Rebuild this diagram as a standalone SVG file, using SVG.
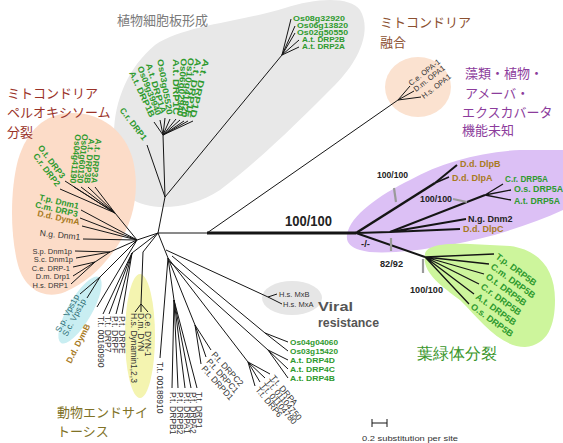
<svg xmlns="http://www.w3.org/2000/svg" width="563" height="443" viewBox="0 0 563 443">
<style>
text{font-family:"Liberation Sans",Arial,sans-serif}
.lab{font-size:8.5px}
.sm{font-size:7px}
.g{fill:#2e9a2e;font-weight:bold}
.b{fill:#a87a1e;font-weight:bold}
.k{fill:#333}
.j{font-family:"Noto Sans CJK JP","Noto Sans CJK SC",sans-serif;font-size:13px}
.bs{font-weight:bold;fill:#222;font-size:9.5px}
.e{stroke:#151515;stroke-width:1;fill:none}
.tk{stroke:#9a9a9a;stroke-width:2.2}
</style>
<rect width="563" height="443" fill="#fff"/>
<g id="regions">
<path d="M115,150 C110,110 125,70 155,45 C185,25 240,22 285,8 C315,-2 350,-4 360,10 C372,30 360,60 335,85 C300,120 260,160 220,190 C190,210 150,212 130,198 C118,188 116,170 115,150 Z" fill="#e8e8e8"/>
<path d="M70,113 C100,112 125,130 133,160 C140,190 134,220 118,245 C104,266 88,282 65,292 C45,300 25,290 18,265 C10,235 10,190 18,160 C27,130 45,114 70,113 Z" fill="#fcdcc8"/>
<ellipse cx="80" cy="310" rx="12" ry="38" transform="rotate(30 80 310)" fill="#c9eef2"/>
<ellipse cx="140" cy="336" rx="15" ry="62" fill="#f4f4b0"/>
<ellipse cx="418" cy="87" rx="33" ry="30" fill="#fbe2d0"/>
<ellipse cx="292" cy="298" rx="30" ry="17" fill="#e6e6e6"/>
<path d="M347,235 C350,215 380,195 410,180 C440,163 480,152 520,150 L563,150 L563,210 C530,225 490,238 450,245 C410,252 375,255 360,250 C350,247 346,242 347,235 Z" fill="#dcc0f5"/>
<path d="M425,255 C425,245 445,243 470,244 L510,246 C540,250 555,270 555,300 C555,325 548,345 525,347 C500,347 480,320 460,300 C440,285 422,272 425,255 Z" fill="#cdf59c"/>
</g>
<g id="connectors" class="e">
<path d="M158,233 L207,233 M207,233 L398,100 M158,233 L165,197 M158,233 L137,240 M158,233 L168,258"/>
<path d="M207,233 L356,233" stroke-width="2.8"/>
<path d="M165,197 L163,135 M163,135 L193,121 M163,135 L188,121 M163,135 L184,121 M163,135 L180,120 M163,135 L176,119 M163,135 L170,119 M163,135 L165,118 M163,135 L160,120 M163,135 L154,122 M165,197 L147,145"/>
<path d="M165,197 L282,55 M282,55 L291,19 M282,55 L295,26 M282,55 L295,33 M282,55 L299,40 M282,55 L299,47"/>
<path d="M398,100 L410,86 M398,100 L414,91 M398,100 L421,97"/>
<path d="M137,240 L115,213 M115,213 L95,187 M115,213 L88,187 M115,213 L81,187 M115,213 L74,187 M115,213 L65,181 M115,213 L60,189"/>
<path d="M137,240 L81,210 M137,240 L80,218 M137,240 L82,226 M137,240 L83,239"/>
<path d="M137,240 L110,252 M110,252 L75,251 M110,252 L76,258 M110,252 L95,262 M95,262 L73,267 M95,262 L73,276 M95,262 L71,284"/>
<path d="M137,240 L100,277 M100,277 L80,294 M100,277 L87,298 M137,240 L97,307"/>
<path d="M158,233 L132,253 M132,253 L122,314 M132,253 L116,314 M132,253 L109,314 M132,253 L103,314"/>
<path d="M158,233 L143,252 L141,304 M141,304 L135,312 M141,304 L141,312 M141,304 L148,312"/>
<path d="M168,258 L160,358 M168,258 L174,300 M174,300 L172,388 M174,300 L178,388 M174,300 L185,388 M174,300 L191,388 M174,300 L197,388"/>
<path d="M168,258 L195,325 M195,325 L211,350 M195,325 L206,357 M195,325 L201,364"/>
<path d="M168,258 L248,362 M248,362 L270,374 M248,362 L265,378 M248,362 L260,382 M248,362 L255,386"/>
<path d="M172,256 L265,333 M265,333 L288,342 M265,333 L288,351 M170,262 L268,350 M268,350 L288,360 M268,350 L288,369 M268,350 L288,378"/>
<path d="M166,250 L268,297 M268,297 L277,294 M268,297 L282,304"/>
<path d="M356,233 L435,183" stroke-width="2.5"/>
<path d="M435,183 L457,165" stroke-width="2"/>
<path d="M435,183 L449,177" stroke-width="1.5"/>
<path d="M356,233 L390,232 L485,195" stroke-width="2"/>
<path d="M485,195 L503,184 M485,195 L511,190 M485,195 L511,200" stroke-width="1.3"/>
<path d="M390,232 L466,219 M390,232 L460,229" stroke-width="1.8"/>
<path d="M356,233 L425,257" stroke-width="2"/>
<path d="M425,257 L494,254 M425,257 L489,264 M425,257 L484,274 M425,257 L479,284 M425,257 L474,294 M425,257 L469,304" stroke-width="1.3"/>
</g>
<g id="bootstrap">
<text x="285" y="226" font-size="15" font-weight="bold" fill="#222" textLength="47" lengthAdjust="spacingAndGlyphs">100/100</text>
<text class="bs" x="377" y="178" textLength="31" lengthAdjust="spacingAndGlyphs">100/100</text>
<text class="bs" x="420" y="202" textLength="32" lengthAdjust="spacingAndGlyphs">100/100</text>
<text class="bs" x="361" y="247">-/-</text>
<text class="bs" x="380" y="267" textLength="23" lengthAdjust="spacingAndGlyphs">82/92</text>
<text class="bs" x="410" y="293" textLength="33" lengthAdjust="spacingAndGlyphs">100/100</text>
<line class="tk" x1="394" y1="188" x2="396" y2="202"/>
<line class="tk" x1="453" y1="199" x2="467" y2="202"/>
<line class="tk" x1="391" y1="238" x2="391" y2="251"/>
<line class="tk" x1="423" y1="259" x2="423" y2="273"/>
</g>
<g id="plant-cell-plate">
<text class="j" x="117" y="25" fill="#7a7a7a">植物細胞板形成</text>
<text class="sm g" x="293" y="21" textLength="52" lengthAdjust="spacingAndGlyphs">Os08g32920</text>
<text class="sm g" x="297" y="28" textLength="51" lengthAdjust="spacingAndGlyphs">Os06g13820</text>
<text class="sm g" x="297" y="35" textLength="51" lengthAdjust="spacingAndGlyphs">Os02g50550</text>
<text class="sm g" x="302" y="42" textLength="43" lengthAdjust="spacingAndGlyphs">A.t. DRP2B</text>
<text class="sm g" x="302" y="49" textLength="43" lengthAdjust="spacingAndGlyphs">A.t. DRP2A</text>
<text class="lab g" font-size="8" text-anchor="end" transform="translate(190,117) rotate(103)" textLength="60" lengthAdjust="spacingAndGlyphs">A.t. DRP1D</text>
<text class="lab g" font-size="8" text-anchor="end" transform="translate(185,117) rotate(100)" textLength="60" lengthAdjust="spacingAndGlyphs">A.t. DRP1E</text>
<text class="lab g" font-size="8" text-anchor="end" transform="translate(181,117) rotate(97)" textLength="60" lengthAdjust="spacingAndGlyphs">Os10g41820</text>
<text class="lab g" font-size="8" text-anchor="end" transform="translate(177,116) rotate(94)" textLength="58" lengthAdjust="spacingAndGlyphs">Os06g02940</text>
<text class="lab g" font-size="8" text-anchor="end" transform="translate(173,115) rotate(90)" textLength="56" lengthAdjust="spacingAndGlyphs">A.t. DRP1C</text>
<text class="lab g" font-size="8" text-anchor="end" transform="translate(167,115) rotate(80)" textLength="56" lengthAdjust="spacingAndGlyphs">Os03g05520</text>
<text class="lab g" font-size="8" text-anchor="end" transform="translate(161,114) rotate(73)" textLength="52" lengthAdjust="spacingAndGlyphs">A.t. DRP1A</text>
<text class="lab g" font-size="8" text-anchor="end" transform="translate(156,116) rotate(69)" textLength="52" lengthAdjust="spacingAndGlyphs">Os09g39940</text>
<text class="lab g" font-size="8" text-anchor="end" transform="translate(150,118) rotate(65)" textLength="50" lengthAdjust="spacingAndGlyphs">A.t. DRP1B</text>
<text class="lab g" text-anchor="end" transform="translate(143,141) rotate(52)">C.r. DRP1</text>
</g>
<g id="mito-fusion">
<text class="j" x="380" y="27" fill="#8b5030">ミトコンドリア</text>
<text class="j" x="380" y="47" fill="#8b5030">融合</text>
<text class="k" font-size="7.5" transform="translate(411,86) rotate(-38)">C.e. OPA-1</text>
<text class="k" font-size="7.5" transform="translate(416,92) rotate(-38)">D.m. OPA1</text>
<text class="k" font-size="7.5" transform="translate(424,99) rotate(-38)">H.s. OPA1</text>
</g>
<g id="mito-division">
<text class="j" x="7" y="98" fill="#9a3228">ミトコンドリア</text>
<text class="j" x="7" y="117" fill="#9a3228">ペルオキシソーム</text>
<text class="j" x="7" y="137" fill="#9a3228">分裂</text>
<text class="lab g" text-anchor="end" transform="translate(91,183) rotate(96)">A.t. DRP3A</text>
<text class="lab g" text-anchor="end" transform="translate(84,183) rotate(96)">A.t. DRP3B</text>
<text class="lab g" text-anchor="end" transform="translate(77,183) rotate(96)">Os01g60130</text>
<text class="lab g" text-anchor="end" transform="translate(70,183) rotate(96)">Os04g41190</text>
<text class="lab g" text-anchor="end" transform="translate(61,179) rotate(53)">O.t. DRP3</text>
<text class="lab g" text-anchor="end" transform="translate(56,187) rotate(53)">C.r. DRP2</text>
<text class="lab g" text-anchor="end" transform="translate(78,209) rotate(13)">T.p. Dnm1</text>
<text class="lab g" text-anchor="end" transform="translate(77,217) rotate(13)">C.m. DRP3</text>
<text class="lab b" text-anchor="end" transform="translate(79,225) rotate(12)">D.d. DymA</text>
<text class="lab k" text-anchor="end" transform="translate(80,240) rotate(6)">N.g. Dnm1</text>
<text class="k" font-size="7.5" text-anchor="end" x="72" y="254">S.p. Dnm1p</text>
<text class="k" font-size="7.5" text-anchor="end" x="73" y="262">S.c. Dnm1p</text>
<text class="k" font-size="7.5" text-anchor="end" x="70" y="270.5">C.e. DRP-1</text>
<text class="k" font-size="7.5" text-anchor="end" x="70" y="279">D.m. Drp1</text>
<text class="k" font-size="7.5" text-anchor="end" x="68" y="287.5">H.s. DRP1</text>
</g>
<g id="vps1">
<text class="lab" fill="#2a6a70" transform="translate(60,333) rotate(-62)">S.p. Vps1p</text>
<text class="lab" fill="#2a6a70" transform="translate(67,337) rotate(-62)">S.c. Vps1p</text>
</g>
<g id="dymB">
<text class="lab b" transform="translate(71,364) rotate(-63)">D.d. DymB</text>
</g>
<g id="protist-drp">
<text class="lab k" transform="translate(119,316) rotate(90)">P.t. DRPE</text>
<text class="lab k" transform="translate(112,316) rotate(90)">P.t. DRPF</text>
<text class="lab k" transform="translate(105,316) rotate(90)">T.t. DRP7</text>
<text class="lab k" transform="translate(98,316) rotate(90)">T.t. 00160990</text>
<text class="lab k" transform="translate(157,362) rotate(90)">T.t. 00188910</text>
<text class="lab k" transform="translate(196,392) rotate(90)">T.t. DRP1</text>
<text class="lab k" transform="translate(190,392) rotate(90)">P.t. DRPA2</text>
<text class="lab k" transform="translate(184,392) rotate(90)">P.t. DRPA1</text>
<text class="lab k" transform="translate(177,392) rotate(90)">P.t. DRPB2</text>
<text class="lab k" transform="translate(170,392) rotate(90)">P.t. DRPB1</text>
<text class="lab k" transform="translate(211,355) rotate(48)">P.t. DRPC2</text>
<text class="lab k" transform="translate(206,362) rotate(48)">P.t. DRPC1</text>
<text class="lab k" transform="translate(201,369) rotate(48)">P.t. DRPD1</text>
<text class="lab k" transform="translate(270,378) rotate(50)">T.t. DRPA</text>
<text class="lab k" transform="translate(265,382) rotate(50)">T.t. 01104750</text>
<text class="lab k" transform="translate(260,386) rotate(50)">T.t. 01104780</text>
<text class="lab k" transform="translate(255,390) rotate(50)">T.t. DRP6</text>
</g>
<g id="endocytosis">
<text class="lab k" transform="translate(145,313) rotate(90)">C.e. DYN-1</text>
<text class="lab k" transform="translate(138,313) rotate(90)">D.m. DYN</text>
<text class="lab k" transform="translate(131,313) rotate(90)">H.s. Dynamin1,2,3</text>
<text class="j" x="57" y="417" fill="#807226">動物エンドサイ</text>
<text class="j" x="57" y="436" fill="#807226">トーシス</text>
</g>
<g id="drp4">
<text class="g" font-size="8" x="290" y="345" textLength="48" lengthAdjust="spacingAndGlyphs">Os04g04060</text>
<text class="g" font-size="8" x="290" y="354" textLength="48" lengthAdjust="spacingAndGlyphs">Os03g15420</text>
<text class="g" font-size="8" x="290" y="363" textLength="45" lengthAdjust="spacingAndGlyphs">A.t. DRP4D</text>
<text class="g" font-size="8" x="290" y="372" textLength="45" lengthAdjust="spacingAndGlyphs">A.t. DRP4C</text>
<text class="g" font-size="8" x="290" y="381" textLength="45" lengthAdjust="spacingAndGlyphs">A.t. DRP4B</text>
</g>
<g id="viral">
<text class="k" font-size="7.5" x="279" y="297">H.s. MxB</text>
<text class="k" font-size="7.5" x="283" y="307">H.s. MxA</text>
<text x="318" y="311" font-size="13" font-weight="bold" fill="#555" textLength="35" lengthAdjust="spacingAndGlyphs">Viral</text>
<text x="318" y="327" font-size="13" font-weight="bold" fill="#555" textLength="61" lengthAdjust="spacingAndGlyphs">resistance</text>
</g>
<g id="unknown-function">
<text class="j" x="465" y="78" fill="#8c3c9c">藻類・植物・</text>
<text class="j" x="465" y="98" fill="#8c3c9c">アメーバ・</text>
<text class="j" x="462" y="117" fill="#8c3c9c">エクスカバータ</text>
<text class="j" x="462" y="135" fill="#8c3c9c">機能未知</text>
<text class="b" font-size="9" x="460" y="167">D.d. DlpB</text>
<text class="b" font-size="9" x="452" y="181">D.d. DlpA</text>
<text class="g" font-size="9" x="505" y="182" textLength="43" lengthAdjust="spacingAndGlyphs">C.r. DRP5A</text>
<text class="g" font-size="9" x="514" y="192" textLength="49" lengthAdjust="spacingAndGlyphs">O.s. DRP5A</text>
<text class="g" font-size="9" x="514" y="204" textLength="46" lengthAdjust="spacingAndGlyphs">A.t. DRP5A</text>
<text font-size="9" font-weight="bold" fill="#222" x="468" y="222">N.g. Dnm2</text>
<text class="b" font-size="9" x="463" y="232">D.d. DlpC</text>
</g>
<g id="chloroplast-division">
<text class="g" font-size="9" transform="translate(495,258) rotate(36)">T.p. DRP5B</text>
<text class="g" font-size="9" transform="translate(490,268) rotate(36)">C.m. DRP5B</text>
<text class="g" font-size="9" transform="translate(485,278) rotate(36)">O.t. DRP5B</text>
<text class="g" font-size="9" transform="translate(480,288) rotate(36)">C.r. DRP5B</text>
<text class="g" font-size="9" transform="translate(475,298) rotate(36)">A.t. DRP5B</text>
<text class="g" font-size="9" transform="translate(470,308) rotate(36)">O.s. DRP5B</text>
<text x="417" y="359" font-family="Noto Sans CJK JP, sans-serif" font-size="16" fill="#3a962a">葉緑体分裂</text>
</g>
<g id="scale">
<path class="e" d="M372,423 L387,423 M372,419 L372,427 M387,419 L387,427"/>
<text x="362" y="441" font-size="7.5" fill="#333" textLength="96" lengthAdjust="spacingAndGlyphs">0.2 substitution per site</text>
</g>
</svg>
